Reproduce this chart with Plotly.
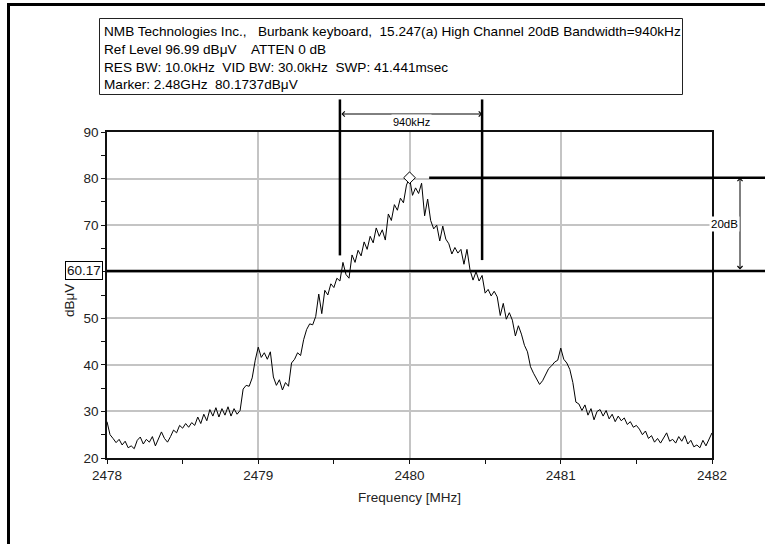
import numpy as np
import plotly.graph_objects as go

# ---- measurement data -------------------------------------------------------
FREQ_START_MHZ = 2478.0
FREQ_STEP_MHZ = 0.02

# Peak-hold trace, dBuV, one value per sweep point (2478.00 ... 2482.00 MHz)
LEVEL_DBUV = [
    27.8, 25.0, 24.2, 23.3, 24.0, 22.8, 23.6, 22.2, 22.6, 22.0,
    23.8, 24.5, 23.0, 24.0, 23.4, 24.6, 22.6, 24.0, 25.6, 24.2,
    23.4, 24.6, 26.0, 25.4, 27.0, 26.4, 27.4, 26.6, 27.6, 27.0,
    28.8, 27.4, 29.4, 28.0, 30.4, 29.0, 30.8, 28.8, 30.6, 29.2,
    31.0, 29.0, 30.6, 29.4, 30.2, 34.8, 35.6, 35.4, 37.2, 41.0,
    43.8, 41.6, 42.6, 41.2, 42.8, 37.4, 35.6, 36.8, 34.6, 36.2,
    35.4, 40.4, 41.2, 42.6, 42.0, 45.4, 47.6, 48.8, 48.6, 50.4,
    55.2, 51.0, 56.0, 55.0, 57.4, 56.6, 58.6, 58.0, 62.0, 59.4,
    58.6, 63.6, 62.0, 64.6, 63.4, 66.4, 64.8, 67.6, 66.2, 69.4,
    67.6, 69.0, 66.8, 72.4, 71.0, 74.4, 73.2, 75.8, 74.8, 78.6,
    80.17, 76.4, 78.0, 76.8, 79.0, 72.0, 75.6, 71.0, 69.2, 70.0,
    66.6, 69.8, 67.0, 66.0, 63.8, 65.2, 64.0, 64.8, 61.6, 64.8,
    60.4, 58.2, 60.0, 58.0, 59.2, 55.4, 56.2, 54.8, 55.8, 54.6,
    50.6, 53.2, 49.8, 51.2, 49.6, 46.2, 48.4, 46.6, 44.2, 42.8,
    39.6, 38.2, 37.0, 35.8, 36.6, 38.0, 39.2, 39.8, 40.6, 41.0,
    43.6, 41.2, 40.4, 39.0, 36.2, 32.0, 31.6, 30.2, 31.4, 29.2,
    30.6, 28.2, 30.0, 30.4, 29.0, 30.2, 28.4, 29.4, 27.8, 29.0,
    28.0, 28.6, 27.2, 27.8, 26.6, 27.0, 26.2, 25.0, 25.8, 24.2,
    24.8, 23.4, 24.2, 23.2, 24.4, 25.4, 23.6, 24.0, 23.2, 24.6,
    23.6, 24.8, 23.0, 23.8, 22.4, 22.8, 22.2, 23.8, 22.6, 24.0,
    25.4,
]

MARKER_FREQ_MHZ = 2480.0
MARKER_LEVEL_DBUV = 80.1737
DROP_DB = 20
THRESHOLD_DBUV = MARKER_LEVEL_DBUV - DROP_DB
BANDWIDTH_KHZ = 940
BW_LOW_MHZ = 2479.54
BW_HIGH_MHZ = BW_LOW_MHZ + BANDWIDTH_KHZ / 1000.0
BW_LOW_END_DBUV = 63.5
BW_HIGH_END_DBUV = 62.5
REF_LEVEL_DBUV = 96.99
PEAK_LINE_START_MHZ = 2480.13

X_RANGE = [2478, 2482]
Y_RANGE = [20, 90]
X_TICKS = [2478, 2479, 2480, 2481, 2482]
X_TICK_LABELS = ["2478", "2479", "2480", "2481", "2482"]
Y_TICKS = [20, 30, 40, 50, 60, 70, 80, 90]
# the 60 position carries the threshold tag instead of a plain label
Y_TICK_LABELS = ["20", "30", "40", "50", "", "70", "80", "90"]

X_TITLE = "Frequency [MHz]"
Y_TITLE = "dB\u03bcV"
HEADER_LINES = [
    "NMB Technologies Inc.,\u00a0\u00a0 Burbank keyboard,\u00a0 15.247(a) High Channel 20dB Bandwidth=940kHz",
    "Ref Level 96.99 dB\u03bcV\u00a0\u00a0\u00a0 ATTEN 0 dB",
    "RES BW: 10.0kHz\u00a0 VID BW: 30.0kHz\u00a0 SWP: 41.441msec",
    "Marker: 2.48GHz\u00a0 80.1737dB\u03bcV",
]

freq_mhz = FREQ_START_MHZ + FREQ_STEP_MHZ * np.arange(len(LEVEL_DBUV))

# ---- page geometry ----------------------------------------------------------
W, H = 765, 544
MARGIN = dict(l=107, r=53, t=132, b=86)
PLOT_W = W - MARGIN["l"] - MARGIN["r"]
PLOT_H = H - MARGIN["t"] - MARGIN["b"]
FONT = "Arial, Liberation Sans, sans-serif"


def px_x(p):
    return (p - MARGIN["l"]) / PLOT_W


def px_y(p):
    return (H - MARGIN["b"] - p) / PLOT_H


def level_y(v):
    return (v - Y_RANGE[0]) / (Y_RANGE[1] - Y_RANGE[0])


def freq_x(f):
    return (f - X_RANGE[0]) / (X_RANGE[1] - X_RANGE[0])


fig = go.Figure()

fig.add_trace(go.Scatter(
    x=freq_mhz, y=LEVEL_DBUV, mode="lines",
    line=dict(color="black", width=1), hoverinfo="x+y", showlegend=False,
))
fig.add_trace(go.Scatter(
    x=[MARKER_FREQ_MHZ], y=[MARKER_LEVEL_DBUV], mode="markers",
    marker=dict(symbol="diamond", size=9, color="white",
                line=dict(color="black", width=1)),
    cliponaxis=False, showlegend=False,
))

frame_line = dict(color="black", width=3)
shapes = [
    # outer frame (top and left edges fall inside the page)
    dict(type="line", xref="paper", yref="paper",
         x0=px_x(7), x1=px_x(W), y0=px_y(4.5), y1=px_y(4.5), line=frame_line),
    dict(type="line", xref="paper", yref="paper",
         x0=px_x(8.5), x1=px_x(8.5), y0=px_y(3), y1=px_y(H), line=frame_line),
    # header box
    dict(type="rect", xref="paper", yref="paper",
         x0=px_x(99.5), x1=px_x(682.5), y0=px_y(18.5), y1=px_y(94.5),
         line=dict(color="#222", width=1), fillcolor="white"),
    # -20 dB threshold line
    dict(type="line", xref="paper", yref="y",
         x0=0, x1=px_x(W + 5), y0=THRESHOLD_DBUV, y1=THRESHOLD_DBUV,
         line=dict(color="black", width=2.5)),
    # peak reference line
    dict(type="line", xref="paper", yref="y",
         x0=freq_x(PEAK_LINE_START_MHZ), x1=px_x(W + 5),
         y0=MARKER_LEVEL_DBUV, y1=MARKER_LEVEL_DBUV,
         line=dict(color="black", width=2.5)),
    # bandwidth edges
    dict(type="line", xref="x", yref="paper",
         x0=BW_LOW_MHZ, x1=BW_LOW_MHZ,
         y0=level_y(BW_LOW_END_DBUV), y1=level_y(REF_LEVEL_DBUV),
         line=dict(color="black", width=2.5)),
    dict(type="line", xref="x", yref="paper",
         x0=BW_HIGH_MHZ, x1=BW_HIGH_MHZ,
         y0=level_y(BW_HIGH_END_DBUV), y1=level_y(REF_LEVEL_DBUV),
         line=dict(color="black", width=2.5)),
]

HEADER_Y_PX = [31.5, 49.3, 67.2, 85.0]
annotations = []
for line_text, ypx in zip(HEADER_LINES, HEADER_Y_PX):
    annotations.append(dict(
        text=line_text, xref="paper", yref="paper", x=px_x(102), y=px_y(ypx),
        xanchor="left", yanchor="middle", showarrow=False,
        font=dict(family=FONT, size=13.6, color="black"),
    ))

BW_ARROW_Y = px_y(114)
DROP_ARROW_X = px_x(740)
annotations += [
    # double arrow spanning the measured bandwidth
    dict(text="", xref="x", yref="paper", x=BW_HIGH_MHZ, y=BW_ARROW_Y,
         axref="x", ax=BW_LOW_MHZ, ayref="pixel", ay=0,
         showarrow=True, arrowside="end+start", arrowhead=4, arrowsize=1,
         arrowwidth=1, arrowcolor="black", standoff=0, startstandoff=0),
    dict(text=f"{BANDWIDTH_KHZ}kHz", xref="x", yref="paper",
         x=(BW_LOW_MHZ + BW_HIGH_MHZ) / 2, y=BW_ARROW_Y, showarrow=False,
         bgcolor="white", borderpad=1,
         font=dict(family=FONT, size=11, color="black")),
    # double arrow spanning the 20 dB drop
    dict(text="", xref="paper", yref="y", x=DROP_ARROW_X, y=MARKER_LEVEL_DBUV,
         axref="pixel", ax=0, ayref="y", ay=THRESHOLD_DBUV,
         showarrow=True, arrowside="end+start", arrowhead=4, arrowsize=1,
         arrowwidth=1, arrowcolor="black", standoff=0, startstandoff=0),
    dict(text=f"{DROP_DB}dB", xref="paper", yref="y", x=DROP_ARROW_X,
         y=(MARKER_LEVEL_DBUV + THRESHOLD_DBUV) / 2, showarrow=False,
         bgcolor="white", borderpad=1,
         font=dict(family=FONT, size=11.5, color="black")),
    # threshold value tag on the level axis
    dict(text=f"{THRESHOLD_DBUV:.2f}", xref="paper", yref="y", x=0,
         y=THRESHOLD_DBUV, xanchor="right", yanchor="middle", xshift=-4,
         showarrow=False, bgcolor="white", bordercolor="black",
         borderwidth=1, borderpad=1,
         font=dict(family=FONT, size=13.5, color="#111")),
    # level axis title, set just below the threshold tag
    dict(text=Y_TITLE, xref="paper", yref="paper", x=px_x(69), y=px_y(301),
         xanchor="center", yanchor="middle", textangle=-90, showarrow=False,
         font=dict(family=FONT, size=13.5, color="#222")),
]

axis_common = dict(
    showgrid=True, gridcolor="#c4c4c4", gridwidth=1.5,
    showline=True, linecolor="#111", linewidth=1.5, mirror=True,
    ticks="outside", ticklen=4, tickcolor="#111", tickwidth=1,
    zeroline=False, tickfont=dict(family=FONT, size=13.5, color="#222"),
)

fig.update_layout(
    width=W, height=H, margin=MARGIN,
    paper_bgcolor="white", plot_bgcolor="white",
    shapes=shapes, annotations=annotations,
    xaxis=dict(
        range=X_RANGE, tickvals=X_TICKS, ticktext=X_TICK_LABELS,
        minor=dict(dtick=0.5, ticks="outside", ticklen=4, tickcolor="#111",
                   showgrid=False),
        title=dict(text=X_TITLE, standoff=11,
                   font=dict(family=FONT, size=13.5, color="#222")),
        **axis_common,
    ),
    yaxis=dict(
        range=Y_RANGE, tickvals=Y_TICKS, ticktext=Y_TICK_LABELS,
        minor=dict(dtick=5, ticks="outside", ticklen=4, tickcolor="#111",
                   showgrid=False),
        **axis_common,
    ),
    font=dict(family=FONT),
    showlegend=False,
)

fig.write_html("out.html")
